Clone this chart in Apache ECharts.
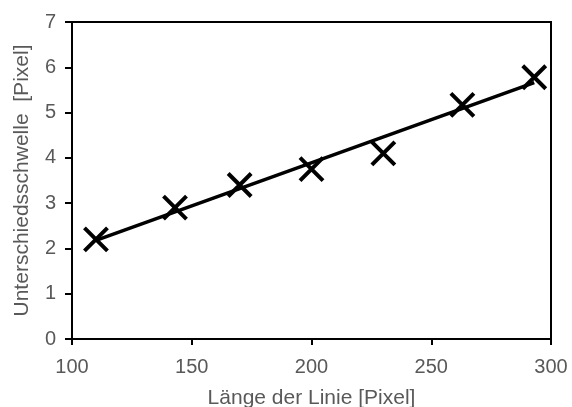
<!DOCTYPE html>
<html>
<head>
<meta charset="utf-8">
<script src="https://cdn.jsdelivr.net/npm/echarts@6/dist/echarts.min.js"></script>
<style>html,body{margin:0;padding:0;background:#fff;}#c{width:572px;height:407px;}</style>
</head>
<body>
<div id="c"></div>
<script>
// Data
var pointX = [110, 143, 170, 200, 230, 263, 293];
var pointY = [2.2, 2.9, 3.4, 3.75, 4.1, 5.17, 5.78];
var trendX = [110, 293];
var trendY = [2.18, 5.66];
var xTitle = 'Länge der Linie [Pixel]';
var yTitle = 'Unterschiedsschwelle  [Pixel]';

var chart = echarts.init(document.getElementById('c'));
var font = '"Liberation Sans", Arial, sans-serif';
var gray = '#595959';
chart.setOption({
  animation: false,
  grid: {left: 72, right: 21, top: 22, bottom: 68, show: true, borderColor: '#000', borderWidth: 2,
         backgroundColor: 'transparent', containLabel: false, outerBoundsMode: 'none'},
  xAxis: {
    type: 'value', min: 100, max: 300, interval: 50,
    name: xTitle, nameLocation: 'middle', nameGap: 49,
    nameTextStyle: {color: gray, fontFamily: font, fontSize: 21},
    axisLine: {show: true, onZero: false, lineStyle: {color: '#000', width: 2}},
    axisTick: {show: true, length: 6, inside: false, lineStyle: {color: '#000', width: 2}},
    axisLabel: {color: gray, fontFamily: font, fontSize: 20, margin: 18},
    splitLine: {show: false}
  },
  yAxis: {
    type: 'value', min: 0, max: 7, interval: 1,
    name: yTitle, nameLocation: 'middle', nameGap: 39,
    nameTextStyle: {color: gray, fontFamily: font, fontSize: 21},
    axisLine: {show: true, onZero: false, lineStyle: {color: '#000', width: 2}},
    axisTick: {show: true, length: 7, inside: false, lineStyle: {color: '#000', width: 2}},
    axisLabel: {color: gray, fontFamily: font, fontSize: 20, margin: 16},
    splitLine: {show: false}
  },
  series: [
    {
      type: 'line',
      data: trendX.map(function (x, i) { return [x, trendY[i]]; }),
      showSymbol: false,
      lineStyle: {color: '#000', width: 3.5},
      z: 2
    },
    {
      type: 'scatter',
      data: pointX.map(function (x, i) { return [x, pointY[i]]; }),
      symbol: 'path://M0,0L10,10M10,0L0,10',
      symbolSize: 23,
      itemStyle: {color: 'rgba(0,0,0,0)', borderColor: '#000', borderWidth: 4, opacity: 1},
      emphasis: {disabled: true},
      z: 3
    }
  ]
});
</script>
</body>
</html>
